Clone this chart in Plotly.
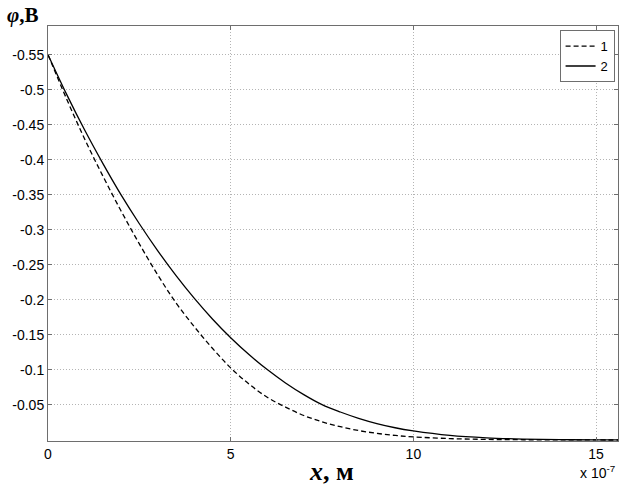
import plotly.graph_objects as go

# x in units of 1e-7 m, phi magnitude in volts (plotted as negative values)
x1 = [0, 0.5, 1, 1.5, 2, 2.5, 3, 3.5, 4, 4.5, 5, 5.5, 6, 6.5, 7, 7.5, 8, 8.5, 9, 9.5, 10, 11, 12, 13, 14, 15, 15.6]
phi1 = [0.55, 0.488, 0.430, 0.377, 0.327, 0.280, 0.236, 0.196, 0.162, 0.131, 0.103, 0.080, 0.061,
        0.047, 0.035, 0.026, 0.019, 0.0135, 0.0095, 0.0065, 0.0045, 0.002, 0.0009, 0.0004, 0.0002, 0.0001, 0.0]
x2 = [0, 0.5, 1, 1.5, 2, 2.5, 3, 3.5, 4, 4.5, 5, 5.5, 6, 6.5, 7, 7.5, 8, 8.5, 9, 9.5, 10, 11, 12, 13, 14, 15, 15.6]
phi2 = [0.55, 0.4945, 0.4428, 0.3949, 0.3499, 0.3087, 0.2704, 0.2350, 0.2025, 0.1728, 0.146, 0.122, 0.1005,
        0.0815, 0.0648, 0.0505, 0.040, 0.031, 0.0235, 0.0175, 0.013, 0.0065, 0.003, 0.0013, 0.0005, 0.0002, 0.0001]
series_names = ["1", "2"]
ytick_vals = [-0.55, -0.5, -0.45, -0.4, -0.35, -0.3, -0.25, -0.2, -0.15, -0.1, -0.05]
ytick_text = ["-0.55", "-0.5", "-0.45", "-0.4", "-0.35", "-0.3", "-0.25", "-0.2", "-0.15", "-0.1", "-0.05"]
xtick_vals = [0, 5, 10, 15]

fig = go.Figure()
fig.add_trace(go.Scatter(x=x1, y=[-v for v in phi1], mode="lines", name=series_names[0],
                         line=dict(color="black", width=1.3, dash="5px,3px", shape="spline")))
fig.add_trace(go.Scatter(x=x2, y=[-v for v in phi2], mode="lines", name=series_names[1],
                         line=dict(color="black", width=1.3, shape="spline")))

axis_common = dict(showline=True, linecolor="#6e6e6e", linewidth=1, mirror="ticks",
                   ticks="inside", ticklen=4, tickcolor="#6e6e6e",
                   showgrid=True, gridcolor="#b4b4b4", griddash="1px,2px", gridwidth=1,
                   zeroline=False, tickfont=dict(family="Liberation Sans, Arial", size=14, color="black"))

W, H = 623, 496
L, R, T, B = 47.5, 5, 26, 55
fig.update_layout(
    width=W, height=H,
    margin=dict(l=L, r=R, t=T, b=B, autoexpand=False),
    paper_bgcolor="white", plot_bgcolor="white",
    showlegend=True,
    legend=dict(x=0.994, y=0.99, xanchor="right", yanchor="top",
                bgcolor="white", bordercolor="#6e6e6e", borderwidth=1,
                font=dict(family="Liberation Sans, Arial", size=13, color="black"),
                tracegroupgap=0, itemwidth=30),
    xaxis=dict(range=[0, 15.6], tickvals=xtick_vals, **axis_common),
    yaxis=dict(range=[0.0014, -0.591], tickvals=ytick_vals, ticktext=ytick_text, **axis_common),
)

pw = W - L - R
ph = H - T - B
def px_to_paper(px, py):
    # px, py in page pixel coordinates of the reference
    return (px - L) / pw, (H - B - py) / ph

ax0, ay0 = px_to_paper(4, 15)
ax1, ay1 = px_to_paper(331, 471)
ax2, ay2 = px_to_paper(597, 472)
fig.update_layout(annotations=[
    dict(text="<b><i>φ</i>,В</b>", x=ax0, y=ay0, xref="paper", yref="paper", showarrow=False,
         font=dict(family="Liberation Serif, Times New Roman", size=21, color="black"),
         xanchor="left", yanchor="middle"),
    dict(text="<b><i>x</i>, м</b>", x=ax1, y=ay1, xref="paper", yref="paper", showarrow=False,
         font=dict(family="Liberation Serif, Times New Roman", size=26, color="black"),
         xanchor="center", yanchor="middle"),
    dict(text="x 10<sup>-7</sup>", x=ax2, y=ay2, xref="paper", yref="paper", showarrow=False,
         font=dict(family="Liberation Sans, Arial", size=14, color="black"),
         xanchor="center", yanchor="middle"),
])

fig.write_html("out.html", config={"displayModeBar": False},
               post_script="document.body.style.margin='0';")
